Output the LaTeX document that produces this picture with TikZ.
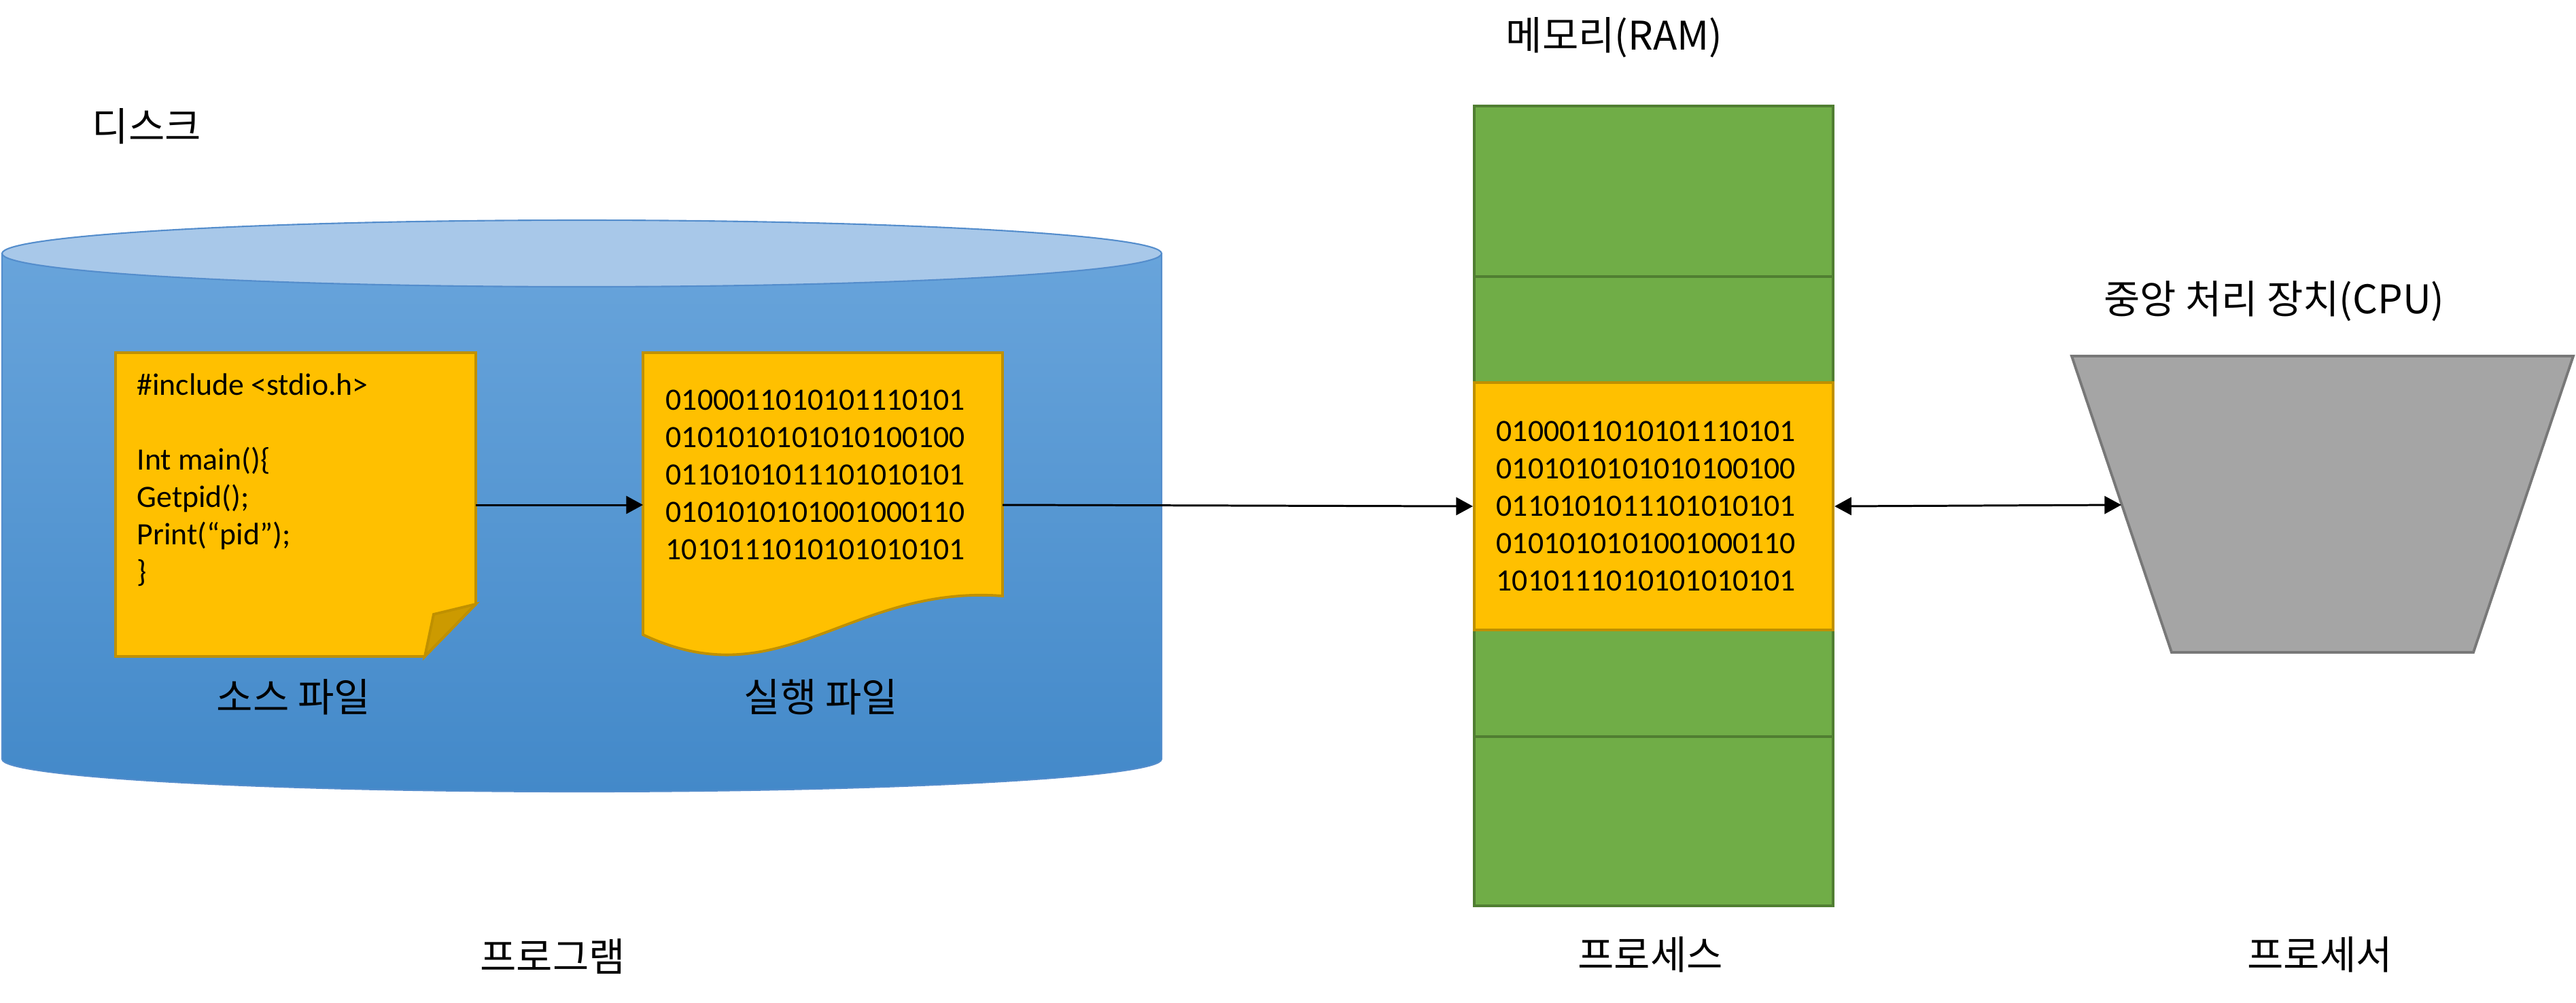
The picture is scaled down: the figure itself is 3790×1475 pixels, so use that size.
\documentclass[tikz,border=0pt]{standalone}
\usepackage{fontspec}
\setmainfont{Carlito}
\newfontfamily\kr{Noto Sans CJK KR}
\usetikzlibrary{arrows.meta}

\definecolor{diskTop}{RGB}{168,200,233}
\definecolor{diskHi}{RGB}{104,164,219}
\definecolor{diskLo}{RGB}{67,137,201}
\definecolor{diskEdge}{RGB}{84,141,204}
\definecolor{docFill}{RGB}{255,192,0}
\definecolor{docEdge}{RGB}{191,144,0}
\definecolor{docFold}{RGB}{204,154,0}
\definecolor{ramFill}{RGB}{112,173,71}
\definecolor{ramEdge}{RGB}{80,126,50}
\definecolor{cpuFill}{RGB}{165,165,165}
\definecolor{cpuEdge}{RGB}{120,120,120}

\begin{document}
\begin{tikzpicture}[x=0.01cm, y=-0.01cm,
  heading/.style={font=\kr\fontsize{16.5}{20}\selectfont, inner sep=0pt},
  listing/.style={font=\fontsize{13}{15.65}\selectfont, align=left, inner sep=0pt, anchor=west},
  paper/.style={fill=docFill, draw=docEdge, line width=1.1pt},
  cell/.style={draw=ramEdge, fill=ramFill, line width=1.1pt, minimum width=5.28cm, inner sep=0pt, anchor=north west},
  link/.style={-{Triangle[length=7pt, width=7.4pt]}, line width=0.85pt},
  duplex/.style={{Triangle[length=7pt, width=7.4pt]}-{Triangle[length=7pt, width=7.4pt]}, line width=0.85pt}]

  \useasboundingbox (0,0) rectangle (3790,1475);

  % Disk
  \path[top color=diskHi, bottom color=diskLo, draw=diskEdge, line width=0.6pt]
    (3,373) -- (3,1117) .. controls (3,1143.5) and (385,1165) .. (856,1165)
    .. controls (1327,1165) and (1709,1143.5) .. (1709,1117) -- (1709,373) -- cycle;
  \draw[fill=diskTop, draw=diskEdge, line width=0.6pt] (856,373) ellipse [x radius=853, y radius=49];

  % Source file
  \draw[paper] (170,519) -- (700,519) -- (700,889) -- (625,966) -- (170,966) -- cycle;
  \draw[fill=docFold, draw=docEdge, line width=1.1pt] (625,966) -- (638,904) -- (700,889) -- cycle;
  \node[listing] (srccode) at (201,706) {\#include <stdio.h>\\[15.65pt]Int main()\{\\Getpid();\\Print(“pid”);\\\}};

  % Executable file
  \draw[paper] (946,519) -- (1475,519) -- (1475,877) .. controls (1250,860) and (1150,1030) .. (946,934) -- cycle;
  \node[listing] (exebits) at (979,699) {0100011010101110101\\0101010101010100100\\0110101011101010101\\0101010101001000110\\1010111010101010101};

  % Memory
  \node[cell, minimum height=2.51cm] (m1) at (2167,154) {};
  \node[cell, minimum height=1.56cm] (m2) at (2167,405) {};
  \node[cell, minimum height=1.57cm] (m4) at (2167,925) {};
  \node[cell, minimum height=2.49cm] (m5) at (2167,1082) {};
  \node[cell, fill=docFill, draw=docEdge, minimum height=3.64cm] (proc) at (2167,561) {};
  \node[listing] (procbits) at ([xshift=0.34cm]proc.west) {0100011010101110101\\0101010101010100100\\0110101011101010101\\0101010101001000110\\1010111010101010101};

  % CPU
  \draw[fill=cpuFill, draw=cpuEdge, line width=1.1pt] (3048,524) -- (3786,524) -- (3639,960) -- (3195,960) -- cycle;

  % Arrow ends
  \coordinate (src-e) at (700,743);
  \coordinate (exe-w) at (946,743);
  \coordinate (exe-e) at (1475,743);
  \coordinate (cpu-w) at (3121,743);

  % Arrows
  \draw[link] (src-e) -- (exe-w);
  \draw[link] (exe-e) -- (proc.west);
  \draw[duplex] (proc.east) -- (cpu-w);

  % Labels
  \node[heading] (disk) at (216,186) {디스크};
  \node[heading] (srcname) at (432,1026) {소스 파일};
  \node[heading] (exename) at (1208,1026) {실행 파일};
  \node[heading] (program) at (813,1407) {프로그램};
  \node[heading] (ramname) at (2375,55) {메모리(RAM)};
  \node[heading] (process) at (2428,1405) {프로세스};
  \node[heading] (cpuname) at (3346,443) {중앙 처리 장치(CPU)};
  \node[heading] (processor) at (3413,1405) {프로세서};

\end{tikzpicture}
\end{document}
